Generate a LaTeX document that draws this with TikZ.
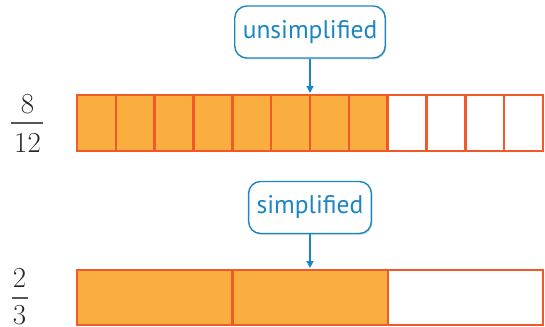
\documentclass[tikz,border=0pt]{standalone}
\usepackage{fontspec}
\newfontfamily\calloutfont{PT Sans}
\usetikzlibrary{arrows.meta,shadows}
\definecolor{barfill}{HTML}{F9AE3F}
\definecolor{barline}{HTML}{F05A28}
\definecolor{callblue}{HTML}{1A86C4}
\definecolor{fracgray}{HTML}{555555}
\begin{document}
\begin{tikzpicture}[x=1pt,y=-1pt,
  callout/.style={draw=callblue,line width=1.4pt,rounded corners=12pt,fill=white,
    text=callblue,font=\calloutfont\fontsize{25.5}{28}\selectfont,
    minimum height=52pt,inner xsep=8pt,
    drop shadow={shadow xshift=1pt,shadow yshift=-1.5pt,opacity=0.25,fill=black!60}},
  callarrow/.style={draw=callblue,line width=1.4pt,-{Triangle[length=7pt,width=7pt]}},
  cell/.style={draw=barline,line width=2.4pt},
  full/.style={cell,fill=barfill},
  empty/.style={cell,fill=white},
  frac/.style={font=\fontsize{29}{32}\selectfont,text=black!85,inner sep=0pt}
]
\useasboundingbox (0,0) rectangle (545,326);
% unsimplified bar: 12 cells
\foreach \i in {0,...,11}{
  \pgfmathsetmacro{\xa}{77+\i*38.83}
  \pgfmathsetmacro{\xb}{77+(\i+1)*38.83}
  \ifnum\i<8
    \path[full] (\xa,95) rectangle (\xb,151);
  \else
    \path[empty] (\xa,95) rectangle (\xb,151);
  \fi
}
\coordinate (top1) at (310,93);
% simplified bar: 3 cells
\path[full] (77,270) rectangle (232.3,325);
\path[full] (232.3,270) rectangle (387.7,325);
\path[empty] (387.7,270) rectangle (543,325);
\coordinate (top2) at (310,268);
% callouts
\node[callout] (c1) at (310,32) {unsimplified};
\draw[callarrow] (c1.south) -- (top1);
\node[callout] (c2) at (310,207.5) {simplified};
\draw[callarrow] (c2.south) -- (top2);
% fractions
\node[frac] (n1) at (27.5,104.5) {8};
\node[frac] (d1) at (27.5,142.5) {12};
\draw[fracgray,line width=1.3pt] (11,123) -- (43,123);
\node[frac] (n2) at (19.5,278) {2};
\node[frac] (d2) at (19.5,315) {3};
\draw[fracgray,line width=1.3pt] (11.5,298) -- (27.5,298);
\end{tikzpicture}
\end{document}
